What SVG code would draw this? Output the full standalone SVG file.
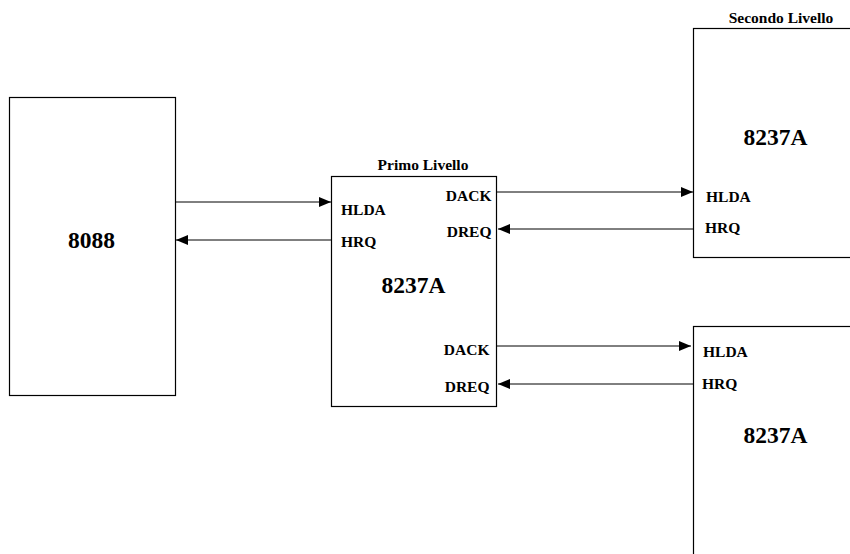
<svg xmlns="http://www.w3.org/2000/svg" width="850" height="554" viewBox="0 0 850 554">
<style>
.box{fill:#fff;stroke:#000;stroke-width:1.2}
.big{font-family:"Liberation Serif","Times New Roman",serif;font-weight:bold;font-size:23.5px;fill:#000}
.lbl{font-family:"Liberation Serif","Times New Roman",serif;font-weight:bold;font-size:15.5px;fill:#000}
.ttl{font-family:"Liberation Serif","Times New Roman",serif;font-weight:bold;font-size:15.5px;fill:#000}
.c{stroke:#000;stroke-width:1;fill:none;marker-end:url(#ah)}
</style>
<defs>
<marker id="ah" markerUnits="userSpaceOnUse" markerWidth="12" markerHeight="10" viewBox="0 0 12 10" refX="12" refY="5" orient="auto">
<path d="M0,0 L12,5 L0,10 Z" fill="#000"/>
</marker>
</defs>
<rect width="850" height="554" fill="#fff"/>
<g id="cpu8088">
<rect class="box" x="9.5" y="97.5" width="166" height="298"/>
<text class="big" x="91.5" y="248" text-anchor="middle">8088</text>
</g>
<g id="primo">
<text class="ttl" x="423" y="169.5" text-anchor="middle">Primo Livello</text>
<rect class="box" x="331.5" y="176.5" width="165" height="230"/>
<text class="lbl" x="341" y="215">HLDA</text>
<text class="lbl" x="341" y="247">HRQ</text>
<text class="lbl" x="491.5" y="200.5" text-anchor="end">DACK</text>
<text class="lbl" x="491.5" y="237" text-anchor="end">DREQ</text>
<text class="big" x="413.5" y="293" text-anchor="middle">8237A</text>
<text class="lbl" x="489.5" y="355" text-anchor="end">DACK</text>
<text class="lbl" x="489.5" y="392" text-anchor="end">DREQ</text>
</g>
<g id="secondo1">
<text class="ttl" x="781" y="23" text-anchor="middle">Secondo Livello</text>
<rect class="box" x="693.5" y="28.5" width="170" height="229"/>
<text class="big" x="775.5" y="145" text-anchor="middle">8237A</text>
<text class="lbl" x="706" y="202">HLDA</text>
<text class="lbl" x="705" y="233">HRQ</text>
</g>
<g id="secondo2">
<rect class="box" x="693.5" y="326.5" width="170" height="240"/>
<text class="lbl" x="703" y="357">HLDA</text>
<text class="lbl" x="702" y="389">HRQ</text>
<text class="big" x="775.5" y="443" text-anchor="middle">8237A</text>
</g>
<g id="connectors">
<line class="c" x1="176" y1="202" x2="331" y2="202"/>
<line class="c" x1="331" y1="240" x2="176" y2="240"/>
<line class="c" x1="497" y1="192" x2="693" y2="192"/>
<line class="c" x1="693" y1="229" x2="498" y2="229"/>
<line class="c" x1="497" y1="346" x2="691" y2="346"/>
<line class="c" x1="693" y1="384" x2="498" y2="384"/>
</g>
</svg>
